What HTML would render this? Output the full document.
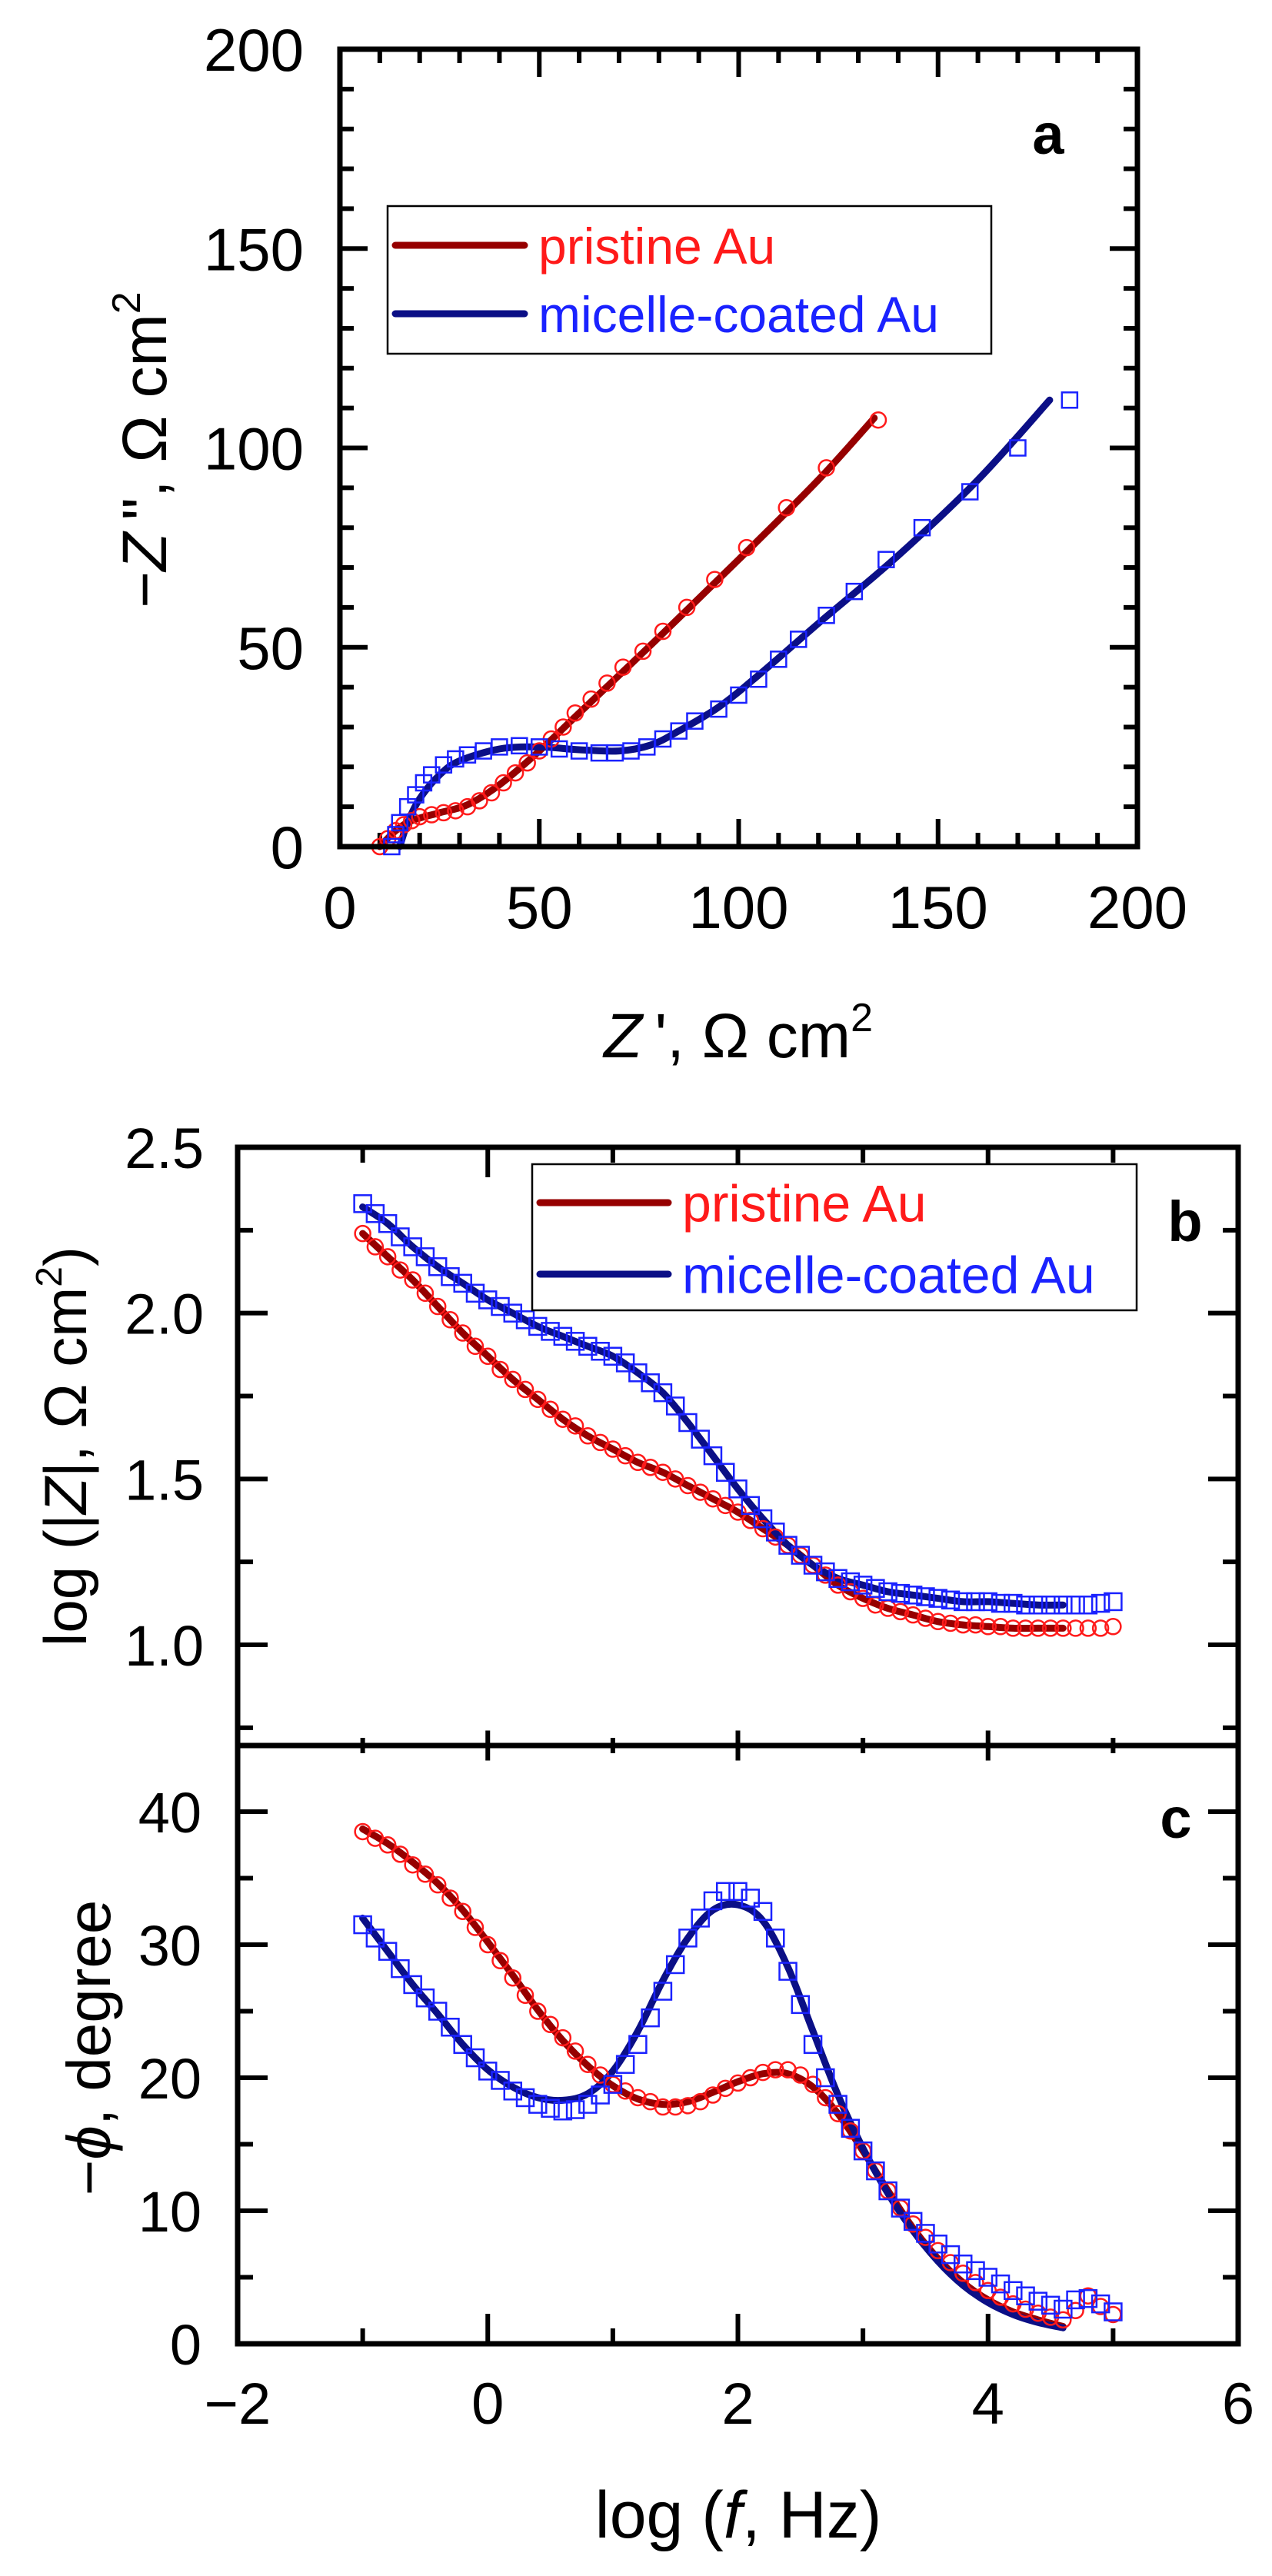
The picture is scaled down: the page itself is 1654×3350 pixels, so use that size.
<!DOCTYPE html>
<html><head><meta charset="utf-8"><title>EIS plots</title>
<style>
html,body{margin:0;padding:0;background:#fff;}
svg{display:block;font-family:"Liberation Sans",Arial,sans-serif;}
</style></head>
<body>
<svg id="fig" xmlns="http://www.w3.org/2000/svg" width="1654" height="3350" viewBox="0 0 1654 3350">
<rect x="0" y="0" width="1654" height="3350" fill="#fff"/>
<g id="pa"></g>
<g id="pb"></g>
<g id="pc"></g>
</svg>
<script>
// ---------- Panel a data (Nyquist) ----------
const aPristineMarkers = [[10,0],[12,2],[14,4],[16,5.5],[18,6.5],[20,7.5],[23,8],[26,8.5],[29,9],[32,10],[35,11.5],[38,13.5],[41,16],[44,18.5],[47,21],[50,24],[53,27],[56,30],[59,33.5],[63,37],[67,41],[71,45],[76,49],[81,54],[87,60],[94,67],[102,75],[112,85],[122,95],[135,107]];
const aPristineFit = [[10,0],[14,4],[18,6.5],[25,8.5],[32,10.5],[40,15.5],[50,24],[60,33.5],[80,52.5],[100,72],[120,92],[134,107.5]];
const aMicelleMarkers = [[13,0],[14,3],[15,6],[17,10],[19,13],[21,16],[23,18],[26,20.5],[29,22],[32,23],[36,24],[40,25],[45,25.3],[50,25],[55,24.5],[60,24],[65,23.5],[69,23.5],[73,24],[77,25],[81,27],[85,29],[89,31.5],[95,34.5],[100,38],[105,42],[110,47],[115,52],[122,58],[129,64],[137,72],[146,80],[158,89],[170,100],[183,112]];
const aMicelleFit = [[15,0],[17,6],[20,12],[25,18],[30,21.5],[40,24.5],[50,25],[60,24.3],[70,24],[78,25.5],[85,29],[95,35],[105,43],[120,56],[140,73],[160,92],[178,112]];
const aXTicks = [0,50,100,150,200];
const aYTicks = [0,50,100,150,200];

// ---------- Panels b, c data (Bode) ----------
const logF = [-1.0,-0.9,-0.8,-0.7,-0.6,-0.5,-0.4,-0.3,-0.2,-0.1,0.0,0.1,0.2,0.3,0.4,0.5,0.6,0.7,0.8,0.9,1.0,1.1,1.2,1.3,1.4,1.5,1.6,1.7,1.8,1.9,2.0,2.1,2.2,2.3,2.4,2.5,2.6,2.7,2.8,2.9,3.0,3.1,3.2,3.3,3.4,3.5,3.6,3.7,3.8,3.9,4.0,4.1,4.2,4.3,4.4,4.5,4.6,4.7,4.8,4.9,5.0];
const bPristine = [2.24,2.20,2.17,2.13,2.10,2.06,2.02,1.98,1.94,1.90,1.87,1.83,1.80,1.77,1.74,1.71,1.68,1.66,1.63,1.61,1.59,1.57,1.55,1.535,1.52,1.50,1.48,1.46,1.44,1.42,1.40,1.375,1.35,1.325,1.30,1.27,1.24,1.21,1.18,1.16,1.14,1.12,1.11,1.10,1.09,1.08,1.07,1.065,1.06,1.06,1.055,1.055,1.05,1.05,1.05,1.05,1.05,1.05,1.05,1.05,1.055];
const bMicelle = [2.33,2.30,2.27,2.23,2.20,2.17,2.14,2.11,2.09,2.06,2.04,2.02,2.00,1.98,1.96,1.945,1.93,1.915,1.90,1.885,1.87,1.85,1.82,1.79,1.76,1.72,1.67,1.62,1.57,1.52,1.47,1.42,1.38,1.34,1.30,1.27,1.24,1.22,1.20,1.19,1.18,1.17,1.16,1.155,1.15,1.145,1.14,1.135,1.13,1.13,1.13,1.125,1.125,1.12,1.12,1.12,1.12,1.12,1.12,1.125,1.13];
const cPristine = [38.5,38,37.5,36.8,36,35.3,34.5,33.5,32.5,31.3,30,28.8,27.5,26.2,25,24,23,22,21,20.2,19.5,19,18.5,18.2,17.8,17.8,17.9,18.2,18.7,19.2,19.6,20,20.4,20.6,20.6,20.2,19.5,18.5,17.3,16,14.5,13,11.5,10.2,9,8,7,6.1,5.3,4.6,4,3.5,3,2.6,2.3,2.0,1.8,2.5,3.6,2.8,2.2];
const cMicelle = [31.5,30.5,29.5,28.2,27,26,25,23.8,22.5,21.5,20.5,19.8,19,18.5,18,17.7,17.5,17.6,18,18.7,19.5,21,22.5,24.5,26.5,28.5,30.5,32,33.3,34,34,33.5,32.5,30.5,28,25.5,22.5,20,18,16.2,14.5,13,11.5,10.2,9.2,8.3,7.5,6.7,6,5.5,5,4.5,4,3.6,3.2,2.9,2.6,3.3,3.4,3.0,2.4];
const fitLogF = [-1.0,-0.8,-0.6,-0.4,-0.2,0.0,0.2,0.4,0.6,0.8,1.0,1.2,1.4,1.6,1.8,2.0,2.2,2.4,2.6,2.8,3.0,3.2,3.4,3.6,3.8,4.0,4.2,4.4,4.6];
const bPristineFit = [2.24,2.17,2.10,2.02,1.94,1.87,1.80,1.74,1.68,1.63,1.59,1.55,1.52,1.48,1.44,1.40,1.35,1.30,1.24,1.18,1.14,1.11,1.09,1.07,1.06,1.055,1.05,1.05,1.05];
const bMicelleFit = [2.32,2.27,2.20,2.14,2.09,2.04,2.00,1.96,1.93,1.90,1.87,1.82,1.76,1.67,1.57,1.47,1.38,1.30,1.24,1.20,1.18,1.16,1.15,1.14,1.13,1.13,1.125,1.12,1.12];
const cPristineFit = [38.7,37.6,36.2,34.6,32.6,30.2,27.7,25.1,22.8,20.9,19.4,18.4,18.0,18.2,18.9,19.7,20.3,20.3,19.3,17.3,14.5,11.5,8.7,6.4,4.6,3.3,2.4,1.8,1.3];
const cMicelleFit = [32,29.5,27,24.8,22.5,20.6,19.3,18.5,18.3,18.8,20.5,23.5,27.3,30.5,32.6,33,31.8,28.3,23.5,18.7,14.7,11.3,8.5,6.2,4.4,3.1,2.2,1.6,1.2];
const bcXTicks = [-2,0,2,4,6];
const bYTicks = ["1.0","1.5","2.0","2.5"];
const cYTicks = [0,10,20,30,40];

const NS = "http://www.w3.org/2000/svg";
const RED = "#ff1a1a", BLUE = "#1a22ff", DRED = "#960000", NAVY = "#0b0f86";
function mk(parent, tag, attrs, text){
  const el = document.createElementNS(NS, tag);
  for (const k in attrs) el.setAttribute(k, attrs[k]);
  if (text !== undefined) el.textContent = text;
  parent.appendChild(el);
  return el;
}
function lin(d0,d1,r0,r1){ return v => r0 + (v-d0)*(r1-r0)/(d1-d0); }
function smoothPath(pts){
  let d = "M" + pts[0][0].toFixed(1) + "," + pts[0][1].toFixed(1);
  for (let i=0;i<pts.length-1;i++){
    const p0 = pts[Math.max(0,i-1)], p1 = pts[i], p2 = pts[i+1], p3 = pts[Math.min(pts.length-1,i+2)];
    const c1x = p1[0]+(p2[0]-p0[0])/6, c1y = p1[1]+(p2[1]-p0[1])/6;
    const c2x = p2[0]-(p3[0]-p1[0])/6, c2y = p2[1]-(p3[1]-p1[1])/6;
    d += " C"+c1x.toFixed(1)+","+c1y.toFixed(1)+" "+c2x.toFixed(1)+","+c2y.toFixed(1)+" "+p2[0].toFixed(1)+","+p2[1].toFixed(1);
  }
  return d;
}
function drawFit(g, pts, color, name){
  const p = mk(g,"path",{d:smoothPath(pts),fill:"none",stroke:color,"stroke-width":9,"stroke-linecap":"round","stroke-linejoin":"round"});
  
  
}
function drawMarkers(g, pts, shape, color, r, name){
  const grp = mk(g,"g",{});
  
  
  pts.forEach(p=>{
    let m;
    if (shape==="circle") m = mk(grp,"circle",{cx:p[0],cy:p[1],r:r,fill:"none",stroke:color,"stroke-width":2.5});
    else m = mk(grp,"rect",{x:p[0]-r,y:p[1]-r,width:2*r,height:2*r,fill:"none",stroke:color,"stroke-width":2.5});
    
    
  });
}
function ticks(g, x0,x1,y0,y1, xs, ys, sides, ML, mL){
  const tg = mk(g,"g",{stroke:"#000","stroke-width":6});
  
  
  xs.forEach(t=>{
    const L = t.major?ML:mL;
    if (sides.bottom) mk(tg,"line",{x1:t.p,y1:y1,x2:t.p,y2:y1-L});
    if (sides.top) mk(tg,"line",{x1:t.p,y1:y0,x2:t.p,y2:y0+L});
    if (sides.botOut) mk(tg,"line",{x1:t.p,y1:y1-L/2,x2:t.p,y2:y1+L/2});
  });
  ys.forEach(t=>{
    const L = t.major?ML:mL;
    mk(tg,"line",{x1:x0,y1:t.p,x2:x0+L,y2:t.p});
    mk(tg,"line",{x1:x1,y1:t.p,x2:x1-L,y2:t.p});
  });
}
function frame(g,x0,x1,y0,y1,name){
  const r = mk(g,"rect",{x:x0,y:y0,width:x1-x0,height:y1-y0,fill:"none",stroke:"#000","stroke-width":7});
  
  
}
function legend(g, x, y, w, h, ly1, ly2, tx, fs){
  const lg = mk(g,"g",{});
  
  
  mk(lg,"rect",{x:x,y:y,width:w,height:h,fill:"#fff",stroke:"#000","stroke-width":2.5});
  mk(lg,"line",{x1:x+10,y1:ly1,x2:tx-18,y2:ly1,stroke:DRED,"stroke-width":9,"stroke-linecap":"round"});
  mk(lg,"line",{x1:x+10,y1:ly2,x2:tx-18,y2:ly2,stroke:NAVY,"stroke-width":9,"stroke-linecap":"round"});
  const t1 = mk(lg,"text",{x:tx,y:ly1+fs*0.36,"font-size":fs,fill:RED},"pristine Au");
  
  
  const t2 = mk(lg,"text",{x:tx,y:ly2+fs*0.36,"font-size":fs,fill:BLUE},"micelle-coated Au");
  
  
}

// ---------- Panel a ----------
(function(){
  const g = document.getElementById("pa");
  const X0=442, X1=1479, Y0=64, Y1=1101;
  const sx = lin(0,200,X0,X1), sy = lin(0,200,Y1,Y0);
  const xs=[], ys=[];
  for (let v=0; v<=200; v+=10){ xs.push({p:sx(v),major:v%50===0}); ys.push({p:sy(v),major:v%50===0}); }
  ticks(g,X0,X1,Y0,Y1,xs,ys,{bottom:true,top:true},36,18);
  drawFit(g, aPristineFit.map(p=>[sx(p[0]),sy(p[1])]), DRED, "fit-line-pristine");
  drawFit(g, aMicelleFit.map(p=>[sx(p[0]),sy(p[1])]), NAVY, "fit-line-micelle");
  drawMarkers(g, aPristineMarkers.map(p=>[sx(p[0]),sy(p[1])]), "circle", RED, 10, "markers-pristine");
  drawMarkers(g, aMicelleMarkers.map(p=>[sx(p[0]),sy(p[1])]), "square", BLUE, 10, "markers-micelle");
  frame(g,X0,X1,Y0,Y1,"plot-frame-a");
  aXTicks.forEach(v=>{ const t=mk(g,"text",{x:sx(v),y:1207,"font-size":78,"text-anchor":"middle"},String(v));   });
  aYTicks.forEach(v=>{ const t=mk(g,"text",{x:395,y:sy(v)+28,"font-size":78,"text-anchor":"end"},String(v));   });
  const xt = mk(g,"text",{x:960,y:1375,"font-size":82,"text-anchor":"middle"});
   
  xt.innerHTML = '<tspan font-style="italic">Z</tspan>\u2009\', \u03A9 cm<tspan font-size="52" dy="-34">2</tspan>';
  const yt = mk(g,"text",{x:0,y:0,"font-size":82,"text-anchor":"middle",transform:"translate(216,585) rotate(-90)"});
   
  yt.innerHTML = '\u2212<tspan font-style="italic">Z</tspan>\u2009", \u03A9 cm<tspan font-size="52" dy="-34">2</tspan>';
  legend(g,504,268,785,192,319,408,700,66);
  const lab = mk(g,"text",{x:1363,y:200,"font-size":74,"font-weight":"bold","text-anchor":"middle"},"a");
   
})();

// ---------- Panels b & c ----------
const X0=309, X1=1610;
const sxb = lin(-2,6,X0,X1);
(function(){
  const g = document.getElementById("pb");
  const Y0=1492, Y1=2270;
  const syb = lin(1.0,2.5,2139,1492);
  const xs=[], ys=[];
  for (let v=-2; v<=6; v+=1) xs.push({p:sxb(v),major:v%2===0});
  for (let v=0.75; v<=2.5001; v+=0.25) ys.push({p:syb(v),major:Math.abs(v*2-Math.round(v*2))<1e-6});
  ticks(g,X0,X1,Y0,Y1,xs,ys,{top:true,botOut:true},39,20);
  drawFit(g, fitLogF.map((f,i)=>[sxb(f),syb(bPristineFit[i])]), DRED, "fit-line-pristine");
  drawFit(g, fitLogF.map((f,i)=>[sxb(f),syb(bMicelleFit[i])]), NAVY, "fit-line-micelle");
  drawMarkers(g, logF.map((f,i)=>[sxb(f),syb(bPristine[i])]), "circle", RED, 10, "markers-pristine");
  drawMarkers(g, logF.map((f,i)=>[sxb(f),syb(bMicelle[i])]), "square", BLUE, 11, "markers-micelle");
  frame(g,X0,X1,Y0,Y1,"plot-frame-b");
  bYTicks.forEach(s=>{ const t=mk(g,"text",{x:265,y:syb(parseFloat(s))+27,"font-size":74,"text-anchor":"end"},s);   });
  const yt = mk(g,"text",{x:0,y:0,"font-size":78,"text-anchor":"middle",transform:"translate(112,1881) rotate(-90)"});
   
  yt.innerHTML = 'log (|<tspan font-style="italic">Z</tspan>|, \u03A9 cm<tspan font-size="48" dy="-32">2</tspan><tspan dy="32">)</tspan>';
  legend(g,692,1514,786,190,1564,1657,887,68);
  const lab = mk(g,"text",{x:1541,y:1614,"font-size":74,"font-weight":"bold","text-anchor":"middle"},"b");
   
})();
(function(){
  const g = document.getElementById("pc");
  const Y0=2270, Y1=3048;
  const sy = lin(0,40,3048,2356);
  const xs=[], ys=[];
  for (let v=-2; v<=6; v+=1) xs.push({p:sxb(v),major:v%2===0});
  for (let v=5; v<=40; v+=5) ys.push({p:sy(v),major:v%10===0});
  ticks(g,X0,X1,Y0,Y1,xs,ys,{bottom:true},39,20);
  drawFit(g, fitLogF.map((f,i)=>[sxb(f),sy(cPristineFit[i])]), DRED, "fit-line-pristine");
  drawFit(g, fitLogF.map((f,i)=>[sxb(f),sy(cMicelleFit[i])]), NAVY, "fit-line-micelle");
  drawMarkers(g, logF.map((f,i)=>[sxb(f),sy(cPristine[i])]), "circle", RED, 10, "markers-pristine");
  drawMarkers(g, logF.map((f,i)=>[sxb(f),sy(cMicelle[i])]), "square", BLUE, 11, "markers-micelle");
  frame(g,X0,X1,Y0,Y1,"plot-frame-c");
  cYTicks.forEach(v=>{ const t=mk(g,"text",{x:262,y:sy(v)+27,"font-size":74,"text-anchor":"end"},String(v));   });
  bcXTicks.forEach(v=>{ const t=mk(g,"text",{x:sxb(v),y:3152,"font-size":76,"text-anchor":"middle"},v<0?"\u2212"+Math.abs(v):String(v));   });
  const xt = mk(g,"text",{x:960,y:3300,"font-size":86,"text-anchor":"middle"});
   
  xt.innerHTML = 'log (<tspan font-style="italic">f</tspan>, Hz)';
  const yt = mk(g,"text",{x:0,y:0,"font-size":80,"text-anchor":"middle",transform:"translate(143,2663) rotate(-90)"});
   
  yt.innerHTML = '\u2212<tspan font-style="italic">\u03D5</tspan>, degree';
  const lab = mk(g,"text",{x:1529,y:2390,"font-size":74,"font-weight":"bold","text-anchor":"middle"},"c");
   
})();
</script>
</body></html>
